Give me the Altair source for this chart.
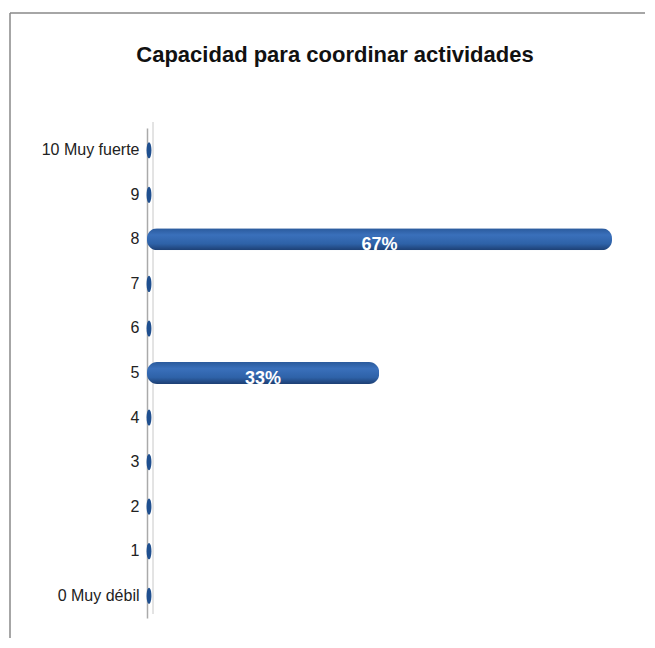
import altair as alt
import pandas as pd

title_text = "Capacidad para coordinar actividades"
categories = ["10 Muy fuerte", "9", "8", "7", "6", "5", "4", "3", "2", "1", "0 Muy débil"]
values = [0.0, 0.0, 0.667, 0.0, 0.0, 0.333, 0.0, 0.0, 0.0, 0.0, 0.0]
labels = ["0%", "0%", "67%", "0%", "0%", "33%", "0%", "0%", "0%", "0%", "0%"]

df = pd.DataFrame({"cat": categories, "val": values, "lab": labels})
df["half"] = df["val"] / 2

W = 488
H = 490
PL, PT = 139, 120

y_enc = alt.Y("cat:N", sort=categories, title=None,
              scale=alt.Scale(paddingInner=0.5, paddingOuter=0.25),
              axis=alt.Axis(labelFont="Liberation Sans", labelFontSize=16,
                            labelColor="#222", ticks=False, domainColor="#aaaaaa",
                            domainWidth=1.5, labelPadding=8))
x_scale = alt.Scale(domain=[0, 0.70])

grad = alt.Gradient(gradient="linear", x1=0, x2=0, y1=0, y2=1,
                    stops=[alt.GradientStop(offset=0, color="#2a5a9c"),
                           alt.GradientStop(offset=0.3, color="#3a70bb"),
                           alt.GradientStop(offset=0.7, color="#2e62a8"),
                           alt.GradientStop(offset=1, color="#1d3f73")])

base = alt.Chart(df)

bars = base.transform_filter("datum.val > 0").mark_bar(
    color=grad, cornerRadius=10, height=22
).encode(
    x=alt.X("val:Q", scale=x_scale, axis=None),
    y=y_enc,
)

ellipse = "M0,-1 A0.3,1 0 1,1 0,1 A0.3,1 0 1,1 0,-1 Z"
zeros = base.transform_filter("datum.val == 0").mark_point(
    shape=ellipse, filled=True, size=260, color="#1f4f8f", opacity=1, xOffset=2
).encode(
    x=alt.X("val:Q", scale=x_scale, axis=None),
    y=alt.Y("cat:N", sort=categories),
)

texts = base.transform_filter("datum.val > 0").mark_text(
    font="Liberation Sans", fontSize=18, fontWeight="bold", color="white",
    baseline="middle", dy=6
).encode(
    x=alt.X("half:Q", scale=x_scale),
    y=alt.Y("cat:N", sort=categories),
    text="lab:N",
)

one = base.transform_filter("datum.cat == '9'")

frame_top = one.mark_rule(color="#888888", strokeWidth=1.5).encode(
    x=alt.value(-137), x2=alt.value(W + 60), y=alt.value(13 - 8 - PT)
)
frame_left = one.mark_rule(color="#888888", strokeWidth=1.5).encode(
    x=alt.value(-137), y=alt.value(13 - 8 - PT), y2=alt.value(H + 40)
)
wall = one.mark_rule(color="#c8c8c8", strokeWidth=1).encode(
    x=alt.value(6), y=alt.value(-6), y2=alt.value(H - 4)
)
title = one.mark_text(
    font="Liberation Sans", fontSize=22, fontWeight="bold", color="#111",
    align="center", baseline="middle"
).encode(
    x=alt.value(335 - 8 - PL), y=alt.value(55 - 8 - PT), text=alt.value(title_text)
)

chart = alt.layer(frame_top, frame_left, wall, bars, zeros, texts, title).properties(
    width=W, height=H,
    padding={"left": PL, "top": PT, "right": 10, "bottom": 20},
    autosize=alt.AutoSizeParams(type="none"),
    background="white",
).configure_view(stroke=None)

chart.save("out.html", embed_options={"renderer": "svg", "actions": False})
